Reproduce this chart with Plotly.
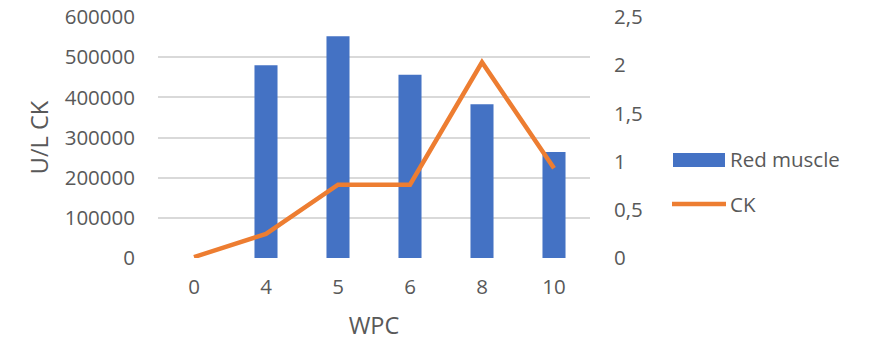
import plotly.graph_objects as go

# WPC level categories
wpc = ["0", "4", "5", "6", "8", "10"]
# Red muscle (U/L CK), primary axis
red_muscle = [None, 480000, 552000, 456000, 383000, 264000]
# CK, secondary axis
ck = [0.01, 0.25, 0.76, 0.76, 2.03, 0.93]

left_ticks = [0, 100000, 200000, 300000, 400000, 500000, 600000]
right_ticks = [0, 0.5, 1, 1.5, 2, 2.5]

BLUE = "#4472C4"
ORANGE = "#ED7D31"
TEXT = "#595959"
GRID = "#D9D9D9"
FONT = "Open Sans"
TICK = 20.5
TITLE = 23.5

W, H = 871, 341
L, R, T, B = 158, 281, 17, 83

fig = go.Figure()
fig.add_trace(go.Bar(x=wpc, y=red_muscle, name="Red muscle",
                     marker=dict(color=BLUE, line=dict(width=0)),
                     yaxis="y", showlegend=False))
fig.add_trace(go.Scatter(x=wpc, y=ck, name="CK", mode="lines",
                         line=dict(color=ORANGE, width=4.5),
                         yaxis="y2", showlegend=False))

fig.update_layout(
    width=W, height=H,
    margin=dict(l=L, r=R, t=T, b=B, pad=0, autoexpand=False),
    paper_bgcolor="white", plot_bgcolor="white",
    separators=",.",
    font=dict(family=FONT, size=TICK, color=TEXT),
    bargap=0.68,
    xaxis=dict(type="category", showgrid=False, zeroline=False, automargin=False,
               showline=False, ticks="", tickfont=dict(size=TICK, color=TEXT),
               ticklabelstandoff=14,
               title=dict(text="WPC", font=dict(size=TITLE, color=TEXT), standoff=19)),
    yaxis=dict(range=[0, 600000], tickvals=left_ticks, tickformat="d", automargin=False,
               showgrid=True, gridcolor=GRID, gridwidth=1.5, zeroline=False,
               showline=False, ticks="", ticklabelstandoff=22,
               tickfont=dict(size=TICK, color=TEXT),
               title=dict(text="U/L CK", font=dict(size=TITLE, color=TEXT), standoff=9)),
    yaxis2=dict(range=[0, 2.5], tickvals=right_ticks, overlaying="y", side="right",
                automargin=False, showgrid=False, zeroline=False, showline=False,
                ticks="", ticklabelstandoff=23, tickfont=dict(size=TICK, color=TEXT)),
    showlegend=False,
)

# Legend drawn in pixel space next to the plot
def px_x(p):
    return (p - L) / (W - L - R)

def px_y(p):
    return 1 - (p - T) / (H - T - B)

fig.add_shape(type="rect", xref="paper", yref="paper",
              x0=px_x(673), x1=px_x(725), y0=px_y(167), y1=px_y(153),
              fillcolor=BLUE, line=dict(width=0))
fig.add_shape(type="line", xref="paper", yref="paper",
              x0=px_x(672), x1=px_x(726), y0=px_y(204), y1=px_y(204),
              line=dict(color=ORANGE, width=4.5))
fig.add_annotation(xref="paper", yref="paper", x=px_x(728), y=px_y(159),
                   text="Red muscle", showarrow=False, xanchor="left", yanchor="middle",
                   font=dict(size=TICK, color=TEXT))
fig.add_annotation(xref="paper", yref="paper", x=px_x(728), y=px_y(204),
                   text="CK", showarrow=False, xanchor="left", yanchor="middle",
                   font=dict(size=TICK, color=TEXT))

fig.write_html("out.html")
